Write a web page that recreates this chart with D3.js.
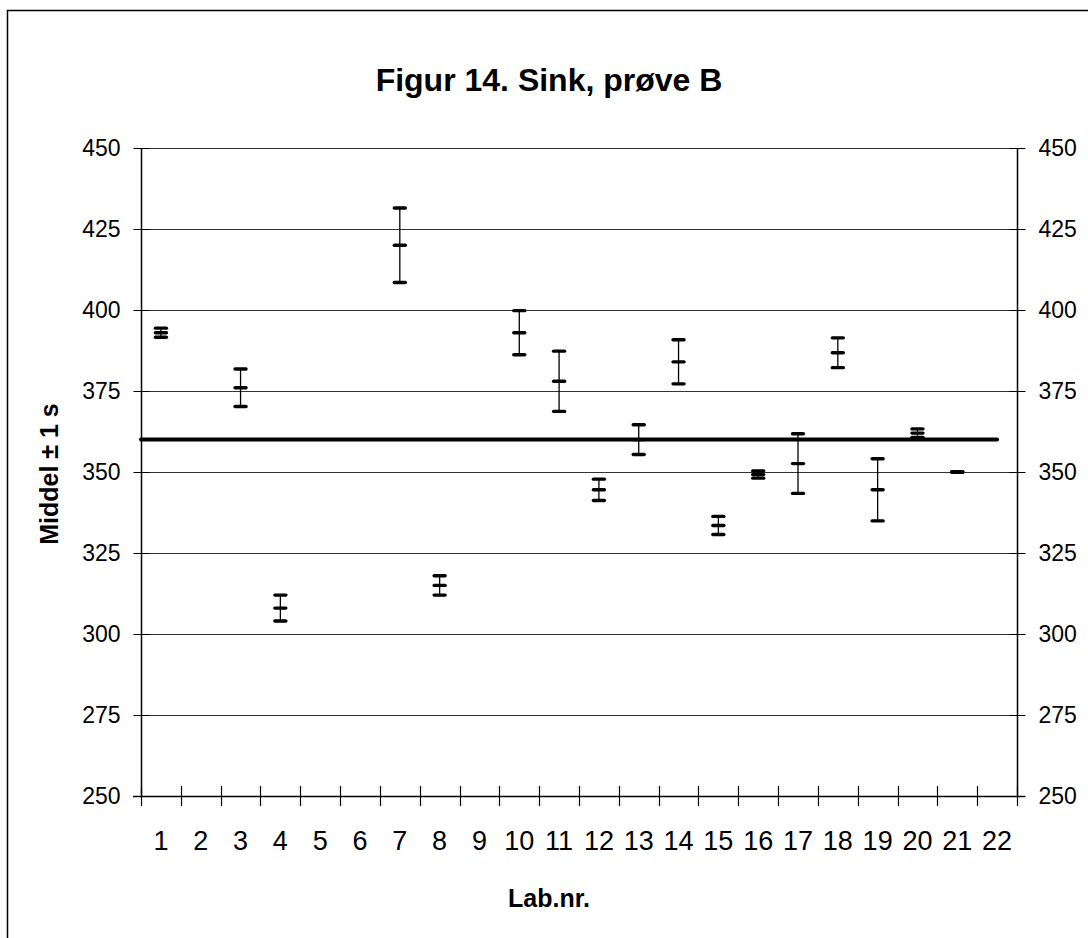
<!DOCTYPE html>
<html>
<head>
<meta charset="utf-8">
<script src="https://cdn.jsdelivr.net/npm/d3@7"></script>
<style>
  body { margin: 0; background: #fff; }
  text { font-family: "Liberation Sans", Arial, sans-serif; fill: #000; }
</style>
</head>
<body>
<div class="canvas"></div>
<script>
// chart values
const labs = d3.range(1, 23);
const means = [393, null, 376, 308, null, null, 420, 315, null, 393, 378, 344.5,
  360, 384, 333.5, 349.2, 352.6, 386.8, 344.5, 362, 350, null];
const sds = [1.4, null, 5.8, 4, null, null, 11.5, 3, null, 6.8, 9.3, 3.3,
  4.6, 6.8, 2.8, 1.1, 9.2, 4.6, 9.6, 1.3, 0, null];
const yTicks = [250, 275, 300, 325, 350, 375, 400, 425, 450];
const assigned = 360;

const W = 1088, H = 938;
const plotLeft = 141, plotRight = 1017, plotTop = 148, plotBottom = 796;

// create svg
const svg = d3.select('.canvas')
  .append('svg')
    .attr('width', W)
    .attr('height', H);

// outer frame
svg.append('rect')
  .attr('x', 7.5).attr('y', 10.5)
  .attr('width', W).attr('height', H)
  .attr('fill', 'none').attr('stroke', '#000').attr('stroke-width', 1.5);

// scales
const x = d3.scaleBand().domain(labs).range([plotLeft, plotRight]);
const xEdge = d3.scaleLinear().domain([0, labs.length]).range([plotLeft, plotRight]);
const y = d3.scaleLinear().domain([250, 450]).range([plotBottom, plotTop]);

// gridlines
svg.append('g')
  .selectAll('line')
  .data(yTicks.slice(1))
  .enter()
  .append('line')
    .attr('x1', plotLeft).attr('x2', plotRight)
    .attr('y1', d => y(d) + 0.5).attr('y2', d => y(d) + 0.5)
    .attr('stroke', '#333').attr('stroke-width', 1.2);

// left axis
const leftAxis = svg.append('g')
  .attr('transform', `translate(${plotLeft + 0.5},0)`)
  .call(d3.axisLeft(y).tickValues(yTicks).tickSize(8).tickPadding(13));
leftAxis.selectAll('.tick line').attr('x2', -8).attr('x1', 8);
leftAxis.select('.domain').attr('d', `M0,${plotTop}V${plotBottom}`).attr('stroke-width', 1.5);
leftAxis.selectAll('text').attr('font-size', 23).attr('font-family', '"Liberation Sans", Arial, sans-serif');

// right axis
const rightAxis = svg.append('g')
  .attr('transform', `translate(${plotRight + 0.5},0)`)
  .call(d3.axisRight(y).tickValues(yTicks).tickSize(8).tickPadding(13));
rightAxis.selectAll('.tick line').attr('x1', -8).attr('x2', 8);
rightAxis.select('.domain').attr('d', `M0,${plotTop}V${plotBottom}`).attr('stroke-width', 1.5);
rightAxis.selectAll('text').attr('font-size', 23).attr('font-family', '"Liberation Sans", Arial, sans-serif');

// bottom axis: line, crossing ticks at band edges, labels at band centres
svg.append('line')
  .attr('x1', plotLeft - 8).attr('x2', plotRight + 8)
  .attr('y1', plotBottom + 0.5).attr('y2', plotBottom + 0.5)
  .attr('stroke', '#000').attr('stroke-width', 1.5);
svg.append('g')
  .selectAll('line')
  .data(d3.range(labs.length + 1))
  .enter()
  .append('line')
    .attr('x1', d => Math.round(xEdge(d)) + 0.5).attr('x2', d => Math.round(xEdge(d)) + 0.5)
    .attr('y1', plotBottom - 10).attr('y2', plotBottom + 10)
    .attr('stroke', '#000').attr('stroke-width', 1.2);
const bottomAxis = svg.append('g')
  .attr('transform', `translate(0,${plotBottom})`)
  .call(d3.axisBottom(x).tickSize(0).tickPadding(35));
bottomAxis.select('.domain').remove();
bottomAxis.selectAll('text').attr('font-size', 27).attr('font-family', '"Liberation Sans", Arial, sans-serif');

// assigned value line
svg.append('line')
  .attr('x1', plotLeft).attr('x2', x(22) + x.bandwidth() / 2)
  .attr('y1', y(assigned)).attr('y2', y(assigned))
  .attr('stroke', '#000').attr('stroke-width', 4).attr('stroke-linecap', 'round');

// error bars
const rows = labs.map((l, i) => ({ lab: l, mean: means[i], sd: sds[i] }))
  .filter(d => d.mean !== null);
const bars = svg.append('g')
  .selectAll('g')
  .data(rows)
  .enter()
  .append('g')
    .attr('transform', d => `translate(${x(d.lab) + x.bandwidth() / 2},0)`);

bars.append('line')
  .attr('y1', d => y(d.mean + d.sd)).attr('y2', d => y(d.mean - d.sd))
  .attr('stroke', '#000').attr('stroke-width', 1.3);

bars.selectAll('.cap')
  .data(d => [d.mean + d.sd, d.mean, d.mean - d.sd])
  .enter()
  .append('line')
    .attr('class', 'cap')
    .attr('x1', -5.5).attr('x2', 5.5)
    .attr('y1', d => y(d)).attr('y2', d => y(d))
    .attr('stroke', '#000').attr('stroke-width', 3.4).attr('stroke-linecap', 'round');

// titles
svg.append('text')
  .attr('x', 549).attr('y', 91)
  .attr('text-anchor', 'middle')
  .attr('font-size', 32).attr('font-weight', 'bold')
  .text('Figur 14. Sink, prøve B');

svg.append('text')
  .attr('transform', 'translate(58,474) rotate(-90)')
  .attr('text-anchor', 'middle')
  .attr('font-size', 25).attr('font-weight', 'bold')
  .text('Middel ± 1 s');

svg.append('text')
  .attr('x', 549).attr('y', 907)
  .attr('text-anchor', 'middle')
  .attr('font-size', 25).attr('font-weight', 'bold')
  .text('Lab.nr.');
</script>
</body>
</html>
